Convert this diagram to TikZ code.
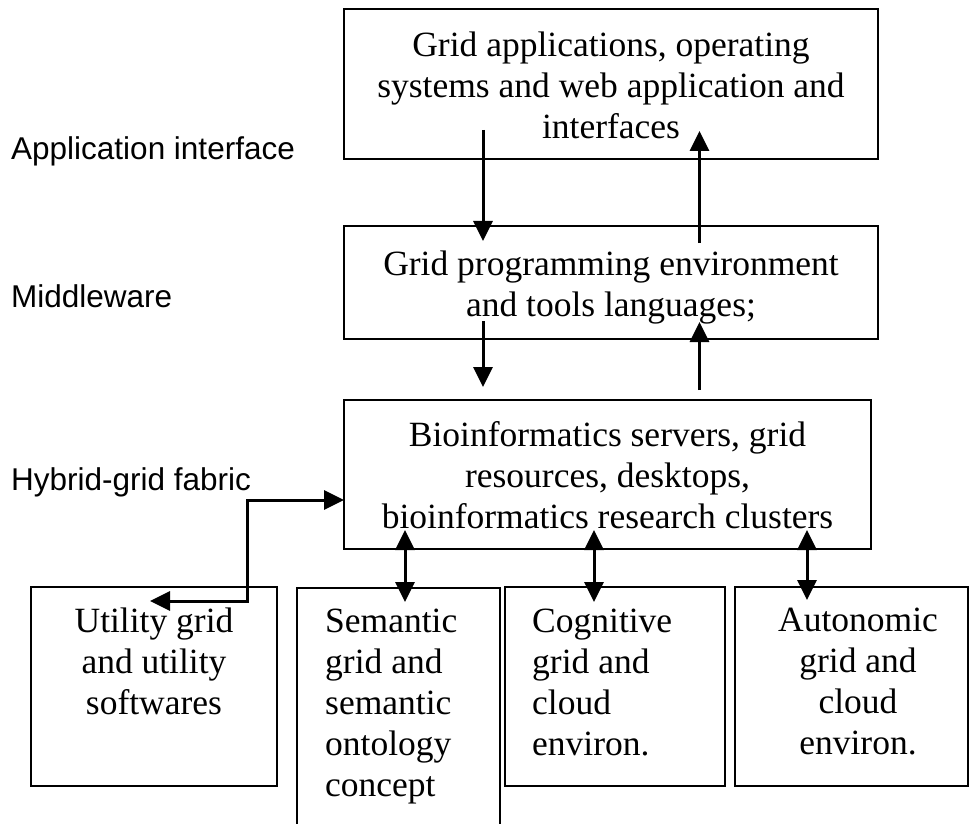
\documentclass[tikz,border=0pt]{standalone}
\usepackage{fontspec}
\setmainfont{Liberation Serif}
\newfontfamily\labelfont{Liberation Sans}
\usetikzlibrary{arrows.meta,calc}

\begin{document}
\begin{tikzpicture}[x=1pt,y=-1pt,
  box/.style={draw, line width=2.6pt, rectangle, inner sep=0pt, outer sep=0pt, anchor=north west},
  boxtext/.style={inner sep=0pt, anchor=north, font=\fontsize{35.5}{41}\selectfont, align=center},
  lefttext/.style={inner sep=0pt, anchor=north west, font=\fontsize{35.5}{41}\selectfont, align=left},
  layer/.style={inner sep=0pt, anchor=base west, font=\labelfont\fontsize{31.5}{38}\selectfont},
  head/.tip={Triangle[length=20pt,width=19pt]},
  link/.style={line width=3pt, -head},
  twoway/.style={line width=3pt, head-head},
]
\useasboundingbox (0,0) rectangle (970,824);

% layer names
\node[layer] (lApp) at (11,160) {Application interface};
\node[layer] (lMid) at (11,307) {Middleware};
\node[layer] (lFab) at (11,490) {Hybrid-grid fabric};

% main stack
\node[box, minimum width=534pt, minimum height=150pt] (top) at (344,9) {};
\node[box, minimum width=534pt, minimum height=113pt] (mid) at (344,226) {};
\node[box, minimum width=527pt, minimum height=149pt] (bot) at (344,400) {};

\node[boxtext] (topText) at (611,31.7)
  {Grid applications, operating\\systems and web application and\\interfaces};
\node[boxtext] (midText) at (611,251)
  {Grid programming environment\\and tools languages;};
\node[boxtext] (botText) at (607.5,421)
  {Bioinformatics servers, grid\\resources, desktops,\\bioinformatics research clusters};

% grid flavours
\node[box, minimum width=246pt, minimum height=199pt] (util) at (31,587) {};
\node[box, minimum width=203pt, minimum height=260pt] (sem) at (297,588) {};
\node[box, minimum width=220pt, minimum height=199pt] (cog) at (505,587) {};
\node[box, minimum width=233pt, minimum height=199pt] (aut) at (735,587) {};

\node[boxtext] (utilText) at (154,608)
  {Utility grid\\and utility\\softwares};
\node[lefttext] (semText) at (325,609)
  {Semantic\\grid and\\semantic\\ontology\\concept};
\node[lefttext] (cogText) at (532,609)
  {Cognitive\\grid and\\cloud\\environ.};
\node[boxtext] (autText) at (858,608)
  {Autonomic\\grid and\\cloud\\environ.};

% arrow columns
\coordinate (xdown) at (483,0);
\coordinate (xup) at (699.5,0);
\coordinate (xsem) at (405,0);
\coordinate (xcog) at (594,0);
\coordinate (xaut) at (807,0);

\draw[link] ([yshift=29pt]top.south -| xdown) -- ([yshift=-15pt]mid.north -| xdown);
\draw[link] ([yshift=-17pt]mid.north -| xup) -- ([yshift=28pt]top.south -| xup);
\draw[link] ([yshift=18pt]mid.south -| xdown) -- ([yshift=13pt]bot.north -| xdown);
\draw[link] ([yshift=10pt]bot.north -| xup) -- ([yshift=17pt]mid.south -| xup);

\draw[twoway] ([yshift=19pt]bot.south -| xsem) -- ([yshift=-14pt]sem.north -| xsem);
\draw[twoway] ([yshift=19pt]bot.south -| xcog) -- ([yshift=-15pt]cog.north -| xcog);
\draw[twoway] ([yshift=19pt]bot.south -| xaut) -- ([yshift=-13pt]aut.north -| xaut);

% elbow link between the fabric and the utility grid
\coordinate (utip) at (150,601);
\coordinate (bend) at (247,500);
\draw[twoway] (utip) -| (bend) -- (bend -| bot.west);
\end{tikzpicture}
\end{document}
